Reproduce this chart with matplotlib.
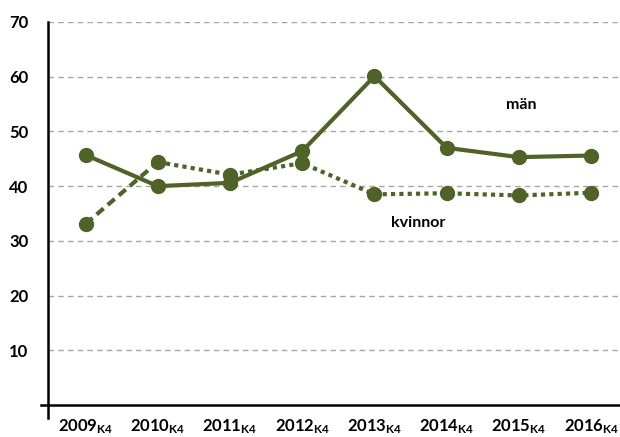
import numpy as np
import matplotlib
matplotlib.use('Agg')
import matplotlib.pyplot as plt

##### DATEN #####
years = ['2009', '2010', '2011', '2012', '2013', '2014', '2015', '2016']
man = [45.7, 40.0, 40.6, 46.4, 60.1, 47.0, 45.3, 45.6]
kvinnor = [33.1, 44.4, 42.1, 44.2, 38.5, 38.7, 38.3, 38.8]
yticks = [10, 20, 30, 40, 50, 60, 70]

col = '#4F6228'
plt.rcParams['font.family'] = 'Lato'
plt.rcParams['mathtext.fontset'] = 'custom'
plt.rcParams['mathtext.rm'] = 'Lato:bold'
plt.rcParams['mathtext.it'] = 'Lato:bold'
plt.rcParams['mathtext.bf'] = 'Lato:bold'

fig = plt.figure(figsize=(6.2, 4.37), dpi=100)
ax = fig.add_axes([48/620, 1-405/437, 1-48/620, (405-22)/437])

x = np.arange(len(years))

# Gitterlinien
for t in yticks:
    ax.axhline(t, color='#A6A6A6', lw=1.0, ls=(0, (4, 3)), zorder=1)

# kvinnor: erstes Segment gestrichelt, Rest gepunktet
ax.plot(x[:2], kvinnor[:2], color=col, lw=3, ls=(0, (2.2, 1.3)), zorder=2)
ax.plot(x[1:], kvinnor[1:], color=col, lw=3, ls=(0, (1, 1)), zorder=2)
ax.plot(x, kvinnor, ls='none', marker='o', ms=10, color=col, zorder=3)

# män
ax.plot(x, man, color=col, lw=3, marker='o', ms=10, zorder=4)

ax.text(6.03, 54.8, 'män', fontsize=11.5, fontweight='bold', ha='center', va='center')
ax.text(4.6, 33.2, 'kvinnor', fontsize=11.5, fontweight='bold', ha='center', va='center')

ax.set_xlim(-0.52, 7.4)
ax.set_ylim(0, 70)
ax.set_yticks(yticks)
ax.set_yticklabels([str(t) for t in yticks], fontsize=12, fontweight='bold')
ax.tick_params(axis='y', length=0, pad=14)
ax.set_xticks(x)
ax.set_xticklabels([r'$' + y + r'_{K4}$' for y in years], fontsize=12)
ax.tick_params(axis='x', length=0, pad=9)

for s in ['top', 'right']:
    ax.spines[s].set_visible(False)
ax.spines['left'].set_linewidth(1.8)
ax.spines['bottom'].set_linewidth(1.8)
# Achsenkreuz-Überstand
ax.plot([-0.52, -0.52], [0, -2.4], color='black', lw=1.8, clip_on=False)
ax.plot([-0.52, -0.62], [0, 0], color='black', lw=1.8, clip_on=False)

plt.savefig('out.png', dpi=100)
